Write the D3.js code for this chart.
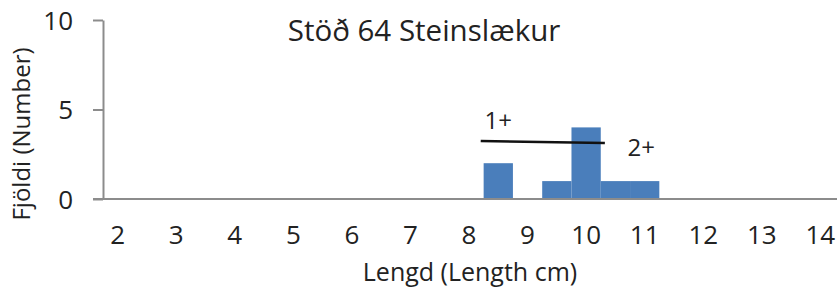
<!DOCTYPE html>
<html>
<head>
<meta charset="utf-8">
<script src="https://cdn.jsdelivr.net/npm/d3@7"></script>
<style>
  body { margin: 0; background: #fff; }
  text { font-family: "Open Sans", sans-serif; fill: #222; }
</style>
</head>
<body>
<svg width="840" height="300"></svg>
<script>
const lengths = ['2', '2.5', '3', '3.5', '4', '4.5', '5', '5.5', '6', '6.5', '7', '7.5', '8',
  '8.5', '9', '9.5', '10', '10.5', '11', '11.5', '12', '12.5', '13', '13.5', '14']
const counts = [0, 0, 0, 0, 0, 0, 0, 0, 0, 0, 0, 0, 0,
  2, 0, 1, 4, 1, 1, 0, 0, 0, 0, 0, 0]
const yTicks = [0, 5, 10]
// age split line and labels (length, count)
const splitLine = [[8.2, 3.24], [10.32, 3.13]]
const ageLabels = [{ text: '1+', x: 8.5, y: 4.4 }, { text: '2+', x: 10.94, y: 2.85 }]

const plot = { left: 103, right: 835, top: 20, bottom: 199 }
const svg = d3.select('svg')

const xScale = d3.scaleBand().domain(lengths).range([plot.left, plot.right]).padding(0)
const bw = xScale.bandwidth()
// continuous length scale for the annotation
const xLin = d3.scaleLinear().domain([2, 14])
  .range([xScale('2') + bw / 2, xScale('14') + bw / 2])
const yScale = d3.scaleLinear().domain([0, 10]).range([plot.bottom, plot.top])

// bars
svg.append('g')
  .selectAll('rect')
  .data(lengths.map((d, i) => ({ len: d, n: counts[i] })).filter(d => d.n > 0))
  .join('rect')
  .attr('x', d => xScale(d.len))
  .attr('width', bw)
  .attr('y', d => yScale(d.n))
  .attr('height', d => yScale(0) - yScale(d.n))
  .attr('fill', '#4a7ebb')

// y axis
const yAxis = svg.append('g')
  .attr('transform', `translate(${plot.left},0)`)
  .call(d3.axisLeft(yScale).tickValues(yTicks).tickSize(10).tickSizeOuter(0).tickPadding(20))
yAxis.select('.domain').attr('stroke', '#8c8c8c').attr('stroke-width', 2)
yAxis.selectAll('.tick line').attr('stroke', '#8c8c8c').attr('stroke-width', 2)
yAxis.selectAll('.tick text')
  .attr('font-size', 26).attr('font-family', '"Open Sans", sans-serif').attr('fill', '#222')
  .attr('dy', '0.36em')

// x axis (labels every second category)
const xAxis = svg.append('g')
  .attr('transform', `translate(0,${plot.bottom})`)
  .call(d3.axisBottom(xScale).tickValues(lengths.filter((d, i) => i % 2 === 0))
    .tickSize(0).tickPadding(29))
xAxis.select('.domain').attr('d', `M${plot.left - 10},0H${plot.right + 2}`)
  .attr('stroke', '#8c8c8c').attr('stroke-width', 2)
xAxis.selectAll('.tick text')
  .attr('font-size', 26).attr('font-family', '"Open Sans", sans-serif').attr('fill', '#222')
  .attr('dy', '0.6em')

// annotation
svg.append('path')
  .datum(splitLine)
  .attr('d', d3.line().x(d => xLin(d[0])).y(d => yScale(d[1])))
  .attr('stroke', '#111')
  .attr('stroke-width', 2.5)
  .attr('fill', 'none')

svg.append('g')
  .selectAll('text')
  .data(ageLabels)
  .join('text')
  .attr('x', d => xLin(d.x))
  .attr('y', d => yScale(d.y))
  .attr('dy', '0.35em')
  .attr('text-anchor', 'middle')
  .attr('font-size', 24)
  .text(d => d.text)

// titles
svg.append('text')
  .attr('x', 424).attr('y', 31).attr('dy', '0.35em')
  .attr('text-anchor', 'middle').attr('font-size', 29.5)
  .text('Stöð 64 Steinslækur')

svg.append('text')
  .attr('x', 470).attr('y', 272).attr('dy', '0.35em')
  .attr('text-anchor', 'middle').attr('font-size', 25)
  .text('Lengd (Length cm)')

svg.append('text')
  .attr('transform', 'translate(22,134) rotate(-90)')
  .attr('dy', '0.35em')
  .attr('text-anchor', 'middle').attr('font-size', 24)
  .text('Fjöldi (Number)')
</script>
</body>
</html>
